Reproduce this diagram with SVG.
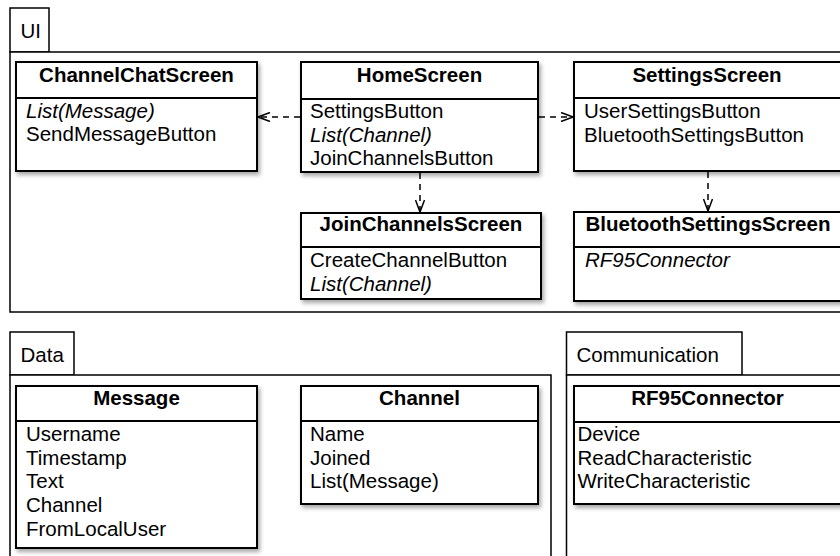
<svg xmlns="http://www.w3.org/2000/svg" width="840" height="556" viewBox="0 0 840 556">
<defs>
<filter id="sh" x="-10%" y="-10%" width="130%" height="130%">
<feDropShadow dx="2" dy="3" stdDeviation="2" flood-color="#000" flood-opacity="0.35"/>
</filter>
<marker id="arr" viewBox="0 0 14 10" refX="13" refY="5" markerWidth="14" markerHeight="10" markerUnits="userSpaceOnUse" orient="auto">
<path d="M1,0.5 L13,5 L1,9.5" fill="none" stroke="#000" stroke-width="1.5"/>
</marker>
<style>
text{font-family:"Liberation Sans",Arial,sans-serif;font-size:20.5px;fill:#000}
.t{font-weight:bold;text-anchor:middle}
.i{font-style:italic}
.box{fill:#fff;stroke:#000;stroke-width:2}
.sep{stroke:#000;stroke-width:2}
.frame{fill:#fff;stroke:#000;stroke-width:1.5}
.conn{fill:none;stroke:#000;stroke-width:1.5;stroke-dasharray:6,5}
</style>
</defs>
<rect width="840" height="556" fill="#fff"/>

<g id="pkg-ui">
<rect class="frame" x="10" y="8" width="39" height="44"/>
<rect class="frame" x="10" y="52" width="840" height="260"/>
<text x="20.5" y="38">UI</text>
</g>
<g id="pkg-data">
<rect class="frame" x="10" y="332" width="64" height="43"/>
<rect class="frame" x="10" y="375" width="541" height="190"/>
<text x="20.5" y="362">Data</text>
</g>
<g id="pkg-comm">
<rect class="frame" x="566.5" y="332" width="175.5" height="43"/>
<rect class="frame" x="566.5" y="375" width="290" height="190"/>
<text x="576.5" y="362">Communication</text>
</g>

<g id="ChannelChatScreen">
<rect class="box" filter="url(#sh)" x="16" y="62" width="241" height="109"/>
<line class="sep" x1="16" y1="98" x2="257" y2="98"/>
<text class="t" x="136.5" y="82">ChannelChatScreen</text>
<text class="i" x="26" y="117.5">List(Message)</text>
<text x="26" y="141">SendMessageButton</text>
</g>

<g id="HomeScreen">
<rect class="box" filter="url(#sh)" x="301" y="62" width="237" height="110"/>
<line class="sep" x1="301" y1="99" x2="538" y2="99"/>
<text class="t" x="419.5" y="82">HomeScreen</text>
<text x="310" y="118">SettingsButton</text>
<text class="i" x="310" y="141.5">List(Channel)</text>
<text x="310" y="165">JoinChannelsButton</text>
</g>

<g id="SettingsScreen">
<rect class="box" filter="url(#sh)" x="574" y="62" width="272" height="109"/>
<line class="sep" x1="574" y1="98" x2="846" y2="98"/>
<text class="t" x="707" y="82">SettingsScreen</text>
<text x="584" y="118">UserSettingsButton</text>
<text x="584" y="141.5">BluetoothSettingsButton</text>
</g>

<g id="JoinChannelsScreen">
<rect class="box" filter="url(#sh)" x="301" y="213" width="240" height="86"/>
<line class="sep" x1="301" y1="247" x2="541" y2="247"/>
<text class="t" x="421" y="231">JoinChannelsScreen</text>
<text x="310" y="267">CreateChannelButton</text>
<text class="i" x="310" y="290.5">List(Channel)</text>
</g>

<g id="BluetoothSettingsScreen">
<rect class="box" filter="url(#sh)" x="574" y="212" width="272" height="89"/>
<line class="sep" x1="574" y1="247" x2="846" y2="247"/>
<text class="t" x="708" y="231">BluetoothSettingsScreen</text>
<text class="i" x="585" y="267">RF95Connector</text>
</g>

<g id="Message">
<rect class="box" filter="url(#sh)" x="16" y="386" width="241" height="162"/>
<line class="sep" x1="16" y1="421" x2="257" y2="421"/>
<text class="t" x="136.5" y="405">Message</text>
<text x="26" y="441">Username</text>
<text x="26" y="464.5">Timestamp</text>
<text x="26" y="488">Text</text>
<text x="26" y="512">Channel</text>
<text x="26" y="536">FromLocalUser</text>
</g>

<g id="Channel">
<rect class="box" filter="url(#sh)" x="301" y="386" width="237" height="118"/>
<line class="sep" x1="301" y1="421" x2="538" y2="421"/>
<text class="t" x="419.5" y="405">Channel</text>
<text x="310" y="441">Name</text>
<text x="310" y="464.5">Joined</text>
<text x="310" y="488">List(Message)</text>
</g>

<g id="RF95Connector">
<rect class="box" filter="url(#sh)" x="574" y="386" width="272" height="118"/>
<line class="sep" x1="574" y1="422" x2="846" y2="422"/>
<text class="t" x="707.5" y="405">RF95Connector</text>
<text x="577.5" y="441">Device</text>
<text x="577.5" y="464.5">ReadCharacteristic</text>
<text x="577.5" y="488">WriteCharacteristic</text>
</g>

<g id="connectors">
<path class="conn" d="M300,117 L258,117" marker-end="url(#arr)"/>
<path class="conn" d="M539,117 L573,117" marker-end="url(#arr)"/>
<path class="conn" d="M420,173 L420,212" marker-end="url(#arr)"/>
<path class="conn" d="M708,172 L708,211" marker-end="url(#arr)"/>
</g>
</svg>
